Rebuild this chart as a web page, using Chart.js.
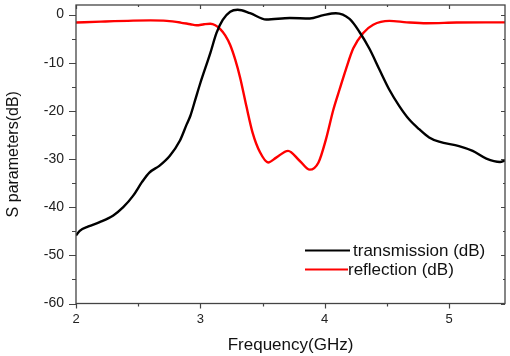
<!DOCTYPE html>
<html><head><meta charset="utf-8">
<script src="https://cdn.jsdelivr.net/npm/chart.js@4"></script>
<style>html,body{margin:0;padding:0;background:#fff}</style>
</head><body>
<canvas id="c" width="510" height="356"></canvas>
<script>
// ---- data ----
const freqTrans = [2.00,2.03,2.10,2.19,2.30,2.38,2.46,2.53,2.59,2.67,2.755,2.835,2.89,2.92,2.96,3.00,3.08,3.13,3.18,3.24,3.30,3.40,3.53,3.72,3.88,3.99,4.09,4.20,4.28,4.36,4.44,4.52,4.60,4.68,4.76,4.84,4.92,5.08,5.19,5.30,5.41,5.45];
const transmission = [-45.9,-44.9,-44.0,-43.1,-41.7,-40.0,-37.6,-34.8,-32.8,-31.4,-29.3,-26.2,-22.8,-21.0,-17.6,-14.2,-8.0,-3.8,-1.1,0.6,1.0,0.3,-1.0,-0.7,-0.8,-0.1,0.3,-0.9,-3.6,-7.1,-11.4,-15.6,-19.0,-21.8,-23.8,-25.5,-26.4,-27.3,-28.3,-29.9,-30.6,-30.3];
const freqRefl = [2.00,2.20,2.46,2.60,2.73,2.84,2.92,2.97,3.03,3.08,3.12,3.16,3.20,3.24,3.28,3.32,3.37,3.42,3.48,3.545,3.61,3.705,3.80,3.88,3.95,4.01,4.07,4.12,4.17,4.23,4.31,4.39,4.52,4.66,4.82,5.06,5.30,5.45];
const reflection = [-1.65,-1.45,-1.24,-1.2,-1.3,-1.65,-2.0,-2.2,-2.0,-1.9,-2.2,-3.0,-4.3,-6.3,-9.3,-13.1,-19.0,-24.5,-28.6,-30.7,-29.7,-28.3,-30.4,-32.2,-30.7,-25.9,-19.7,-15.5,-11.4,-7.0,-3.8,-2.1,-1.3,-1.6,-1.8,-1.65,-1.6,-1.6];
const seriesLabels = ['transmission (dB)','reflection (dB)'];
const seriesColors = ['#000000','#ff0000'];
const xTickValues = [2,2.5,3,3.5,4,4.5,5];
const xTickLabels = ['2','','3','','4','','5'];
const yTickValues = [-60,-55,-50,-45,-40,-35,-30,-25,-20,-15,-10,-5,0];
const yTickLabels = ['-60','','-50','','-40','','-30','','-20','','-10','','0'];
const xRange = [2, 5.45];
const yRange = [-60, 2];
const xTitle = 'Frequency(GHz)';
const yTitle = 'S parameters(dB)';

const FONT = "'Liberation Sans', Arial, sans-serif";
const toPts = (xs, ys) => xs.map((x, i) => ({x, y: ys[i]}));

const framePlugin = {
  id: 'frame',
  afterDraw(chart) {
    const {ctx, chartArea: a, scales} = chart;
    ctx.save();
    ctx.strokeStyle = '#444';
    ctx.lineWidth = 1.3;
    ctx.strokeRect(a.left, a.top, a.right - a.left, a.bottom - a.top);
    ctx.lineWidth = 1.2;
    ctx.beginPath();
    scales.x.ticks.forEach((t, i) => {
      const major = xTickLabels[i] !== '';
      const px = Math.round(scales.x.getPixelForValue(t.value)) + 0.5;
      ctx.moveTo(px, a.bottom); ctx.lineTo(px, a.bottom + (major ? 5 : 3));
      ctx.moveTo(px, a.top); ctx.lineTo(px, a.top + (major ? 4 : 2));
    });
    scales.y.ticks.forEach((t, i) => {
      const major = yTickLabels[i] !== '';
      const py = Math.round(scales.y.getPixelForValue(t.value)) + 0.5;
      ctx.moveTo(a.left, py); ctx.lineTo(a.left - (major ? 7 : 4), py);
      ctx.moveTo(a.right, py); ctx.lineTo(a.right - (major ? 4 : 2), py);
    });
    ctx.stroke();

    // legend inside plot
    ctx.font = '17px ' + FONT;
    ctx.textBaseline = 'middle';
    ctx.textAlign = 'left';
    const rows = [{y: a.top + 245.5, x0: a.left + 229, x1: a.left + 274, tx: a.left + 277},
                  {y: a.top + 264.5, x0: a.left + 229, x1: a.left + 272, tx: a.left + 272}];
    chart.data.datasets.forEach((ds, i) => {
      const r = rows[i];
      ctx.strokeStyle = ds.borderColor;
      ctx.lineWidth = 2;
      ctx.beginPath(); ctx.moveTo(r.x0, r.y); ctx.lineTo(r.x1, r.y); ctx.stroke();
      ctx.fillStyle = '#111';
      ctx.fillText(ds.label, r.tx, r.y + 1);
    });
    ctx.restore();
  }
};

new Chart(document.getElementById('c'), {
  type: 'line',
  data: {
    datasets: [
      {label: seriesLabels[0], data: toPts(freqTrans, transmission), borderColor: seriesColors[0], borderWidth: 2.4, pointRadius: 0, cubicInterpolationMode: 'monotone', fill: false},
      {label: seriesLabels[1], data: toPts(freqRefl, reflection), borderColor: seriesColors[1], borderWidth: 2.4, pointRadius: 0, cubicInterpolationMode: 'monotone', fill: false}
    ]
  },
  options: {
    responsive: false,
    animation: false,
    devicePixelRatio: 1,
    layout: {padding: {left: 0, right: 5, top: 5, bottom: 0}},
    plugins: {legend: {display: false}, tooltip: {enabled: false}},
    scales: {
      x: {
        type: 'linear', min: xRange[0], max: xRange[1],
        grid: {display: false, drawTicks: false},
        border: {display: false},
        afterBuildTicks: s => { s.ticks = xTickValues.map(v => ({value: v})); },
        ticks: {
          autoSkip: false, maxRotation: 0, padding: 8,
          color: '#222', font: {family: FONT, size: 13},
          callback: (v, i) => xTickLabels[i]
        },
        title: {display: true, text: xTitle, color: '#111', font: {family: FONT, size: 17}, padding: {top: 0, bottom: 0}},
        afterFit: s => { s.height = 52.5; s.paddingLeft = 0; s.paddingRight = 0; }
      },
      y: {
        type: 'linear', min: yRange[0], max: yRange[1],
        grid: {display: false, drawTicks: false},
        border: {display: false},
        afterBuildTicks: s => { s.ticks = yTickValues.map(v => ({value: v})); },
        ticks: {
          autoSkip: false, padding: 12,
          color: '#222', font: {family: FONT, size: 14},
          callback: (v, i) => yTickLabels[i]
        },
        title: {display: true, text: yTitle, color: '#111', font: {family: FONT, size: 16}, padding: {top: 4, bottom: 0}},
        afterFit: s => { s.width = 76; s.paddingTop = 0; s.paddingBottom = 0; }
      }
    }
  },
  plugins: [framePlugin]
});
</script>
</body></html>
